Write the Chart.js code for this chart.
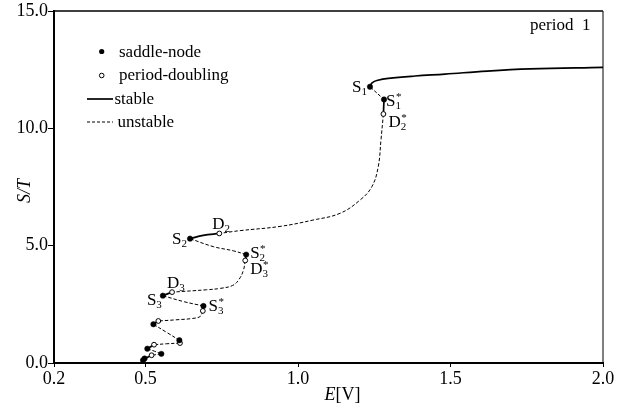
<!DOCTYPE html>
<html>
<head>
<meta charset="utf-8">
<script src="https://cdn.jsdelivr.net/npm/chart.js@4.4.1/dist/chart.umd.min.js"></script>
<style>
  html, body { margin: 0; padding: 0; background: #fff; }
  #wrap { width: 639px; height: 416px; }
</style>
</head>
<body>
<div id="wrap"><canvas id="c" width="639" height="416"></canvas></div>
<script>
// Axis ticks
const xTicks = [0.2, 0.5, 1.0, 1.5, 2.0];
const yTicks = [0, 5, 10, 15];

// Bifurcation points [E, S/T]
const saddleNodes = [
  [1.236, 11.77], [1.282, 11.23], [0.646, 5.30], [0.830, 4.62],
  [0.557, 2.87], [0.690, 2.43], [0.526, 1.65], [0.611, 0.97],
  [0.506, 0.61], [0.552, 0.39], [0.497, 0.19], [0.492, 0.12]
];
const periodDoublings = [
  [1.280, 10.61], [0.742, 5.52], [0.827, 4.37], [0.587, 3.02],
  [0.688, 2.22], [0.542, 1.79], [0.613, 0.85], [0.528, 0.78],
  [0.520, 0.33]
];

// Stable pieces of the period-1 branch
const topBranch   = [[1.236, 11.77], [1.243, 11.94], [1.262, 12.05], [1.296, 12.13], [1.384, 12.23], [1.482, 12.31], [1.620, 12.44], [1.761, 12.53], [2.0, 12.60]];
const s1sToD2s    = [[1.282, 11.23], [1.280, 10.61]];
const d2ToS2      = [[0.742, 5.52], [0.689, 5.44], [0.646, 5.30]];
const s2sToD3s    = [[0.830, 4.62], [0.827, 4.37]];
const d3ToS3      = [[0.587, 3.02], [0.557, 2.87]];
const s3sToD4s    = [[0.690, 2.43], [0.688, 2.22]];
const d4ToS4      = [[0.542, 1.79], [0.526, 1.65]];
const s4sToD5s    = [[0.611, 0.97], [0.613, 0.85]];
const d5ToS5      = [[0.528, 0.78], [0.506, 0.61]];
const d6ToS6      = [[0.520, 0.33], [0.497, 0.19]];

// Unstable pieces of the period-1 branch
const s1ToS1s     = [[1.236, 11.77], [1.282, 11.23]];
const d2sToD2     = [[1.280, 10.61], [1.272, 9.50], [1.263, 8.36], [1.242, 7.51], [1.203, 6.94], [1.138, 6.38], [1.049, 6.09], [0.941, 5.82], [0.810, 5.64], [0.742, 5.52]];
const s2ToS2s     = [[0.646, 5.30], [0.722, 4.96], [0.788, 4.78], [0.830, 4.62]];
const d3sToD3     = [[0.827, 4.37], [0.821, 3.95], [0.806, 3.55], [0.785, 3.30], [0.745, 3.18], [0.700, 3.12], [0.587, 3.02]];
const s3ToS3s     = [[0.557, 2.87], [0.624, 2.62], [0.690, 2.43]];
const d4sToD4     = [[0.688, 2.22], [0.680, 1.99], [0.655, 1.90], [0.600, 1.84], [0.542, 1.79]];
const s4ToS4s     = [[0.526, 1.65], [0.570, 1.30], [0.611, 0.97]];
const d5sToD5     = [[0.613, 0.85], [0.570, 0.82], [0.528, 0.78]];
const s5ToS5s     = [[0.506, 0.61], [0.530, 0.50], [0.552, 0.39]];
const s5sToD6     = [[0.552, 0.39], [0.520, 0.33]];
const tailPath    = [[0.497, 0.19], [0.492, 0.12]];

const stablePieces = [topBranch, s1sToD2s, d2ToS2, s2sToD3s, d3ToS3, s3sToD4s, d4ToS4, s4sToD5s, d5ToS5, d6ToS6];
const unstablePieces = [s1ToS1s, d2sToD2, s2ToS2s, d3sToD3, s3ToS3s, d4sToD4, s4ToS4s, d5sToD5, s5ToS5s, s5sToD6, tailPath];

// Named points: [set, index, letter, subscript, starred]
const pointNames = [
  ['saddle', 0, 'S', '1', false],
  ['saddle', 1, 'S', '1', true],
  ['doubling', 0, 'D', '2', true],
  ['doubling', 1, 'D', '2', false],
  ['saddle', 2, 'S', '2', false],
  ['saddle', 3, 'S', '2', true],
  ['doubling', 2, 'D', '3', true],
  ['doubling', 3, 'D', '3', false],
  ['saddle', 4, 'S', '3', false],
  ['saddle', 5, 'S', '3', true]
];

const SERIF = '"Liberation Serif", "Times New Roman", serif';
const toXY = arr => arr.map(p => ({ x: p[0], y: p[1] }));

const datasets = [];
datasets.push({
  data: toXY(saddleNodes), showLine: false, order: 0,
  pointRadius: 2.7, pointBackgroundColor: '#000', pointBorderColor: '#000', pointBorderWidth: 0.5
});
datasets.push({
  data: toXY(periodDoublings), showLine: false, order: 0,
  pointRadius: 2.4, pointBackgroundColor: '#fff', pointBorderColor: '#000', pointBorderWidth: 1
});
stablePieces.forEach(p => datasets.push({
  data: toXY(p), showLine: true, order: 1, pointRadius: 0,
  borderColor: '#000', borderWidth: 1.7, tension: 0.4, fill: false
}));
unstablePieces.forEach(p => datasets.push({
  data: toXY(p), showLine: true, order: 1, pointRadius: 0,
  borderColor: '#000', borderWidth: 1, borderDash: [3.5, 2], tension: 0.4, fill: false
}));

// Label offsets (pixels) relative to each named point: [dx to text left, dy to text centre]
const nameOffsets = [[-18, 0], [2, 1], [5, 7], [-7, -10], [-18, 0], [4, -2], [5, 8], [-5, -10], [-16, 4], [5, 0]];

function drawName(ctx, x, cy, letter, sub, star) {
  const base = cy + 5.5;
  ctx.font = '17px ' + SERIF;
  ctx.textAlign = 'left';
  ctx.textBaseline = 'alphabetic';
  ctx.fillText(letter, x, base);
  const w = ctx.measureText(letter).width;
  ctx.font = '11px ' + SERIF;
  ctx.fillText(sub, x + w, base + 3);
  if (star) ctx.fillText('*', x + w + 0.5, base - 6);
}

const decorations = {
  id: 'decorations',
  afterDraw(chart) {
    const ctx = chart.ctx;
    const a = chart.chartArea;
    const xs = chart.scales.x, ys = chart.scales.y;
    ctx.save();
    ctx.fillStyle = '#000';
    ctx.strokeStyle = '#000';

    // top and right frame
    ctx.lineWidth = 1.5;
    ctx.beginPath();
    ctx.moveTo(a.left, a.top);
    ctx.lineTo(a.right, a.top);
    ctx.stroke();
    ctx.lineWidth = 1;
    ctx.beginPath();
    ctx.moveTo(a.right, a.top);
    ctx.lineTo(a.right, a.bottom);
    ctx.stroke();

    // key
    ctx.beginPath(); ctx.arc(101.7, 51.5, 2.6, 0, Math.PI * 2); ctx.fill();
    ctx.beginPath(); ctx.arc(101.7, 75.5, 2.3, 0, Math.PI * 2);
    ctx.fillStyle = '#fff'; ctx.fill(); ctx.lineWidth = 1; ctx.stroke();
    ctx.fillStyle = '#000';
    ctx.lineWidth = 1.7;
    ctx.beginPath(); ctx.moveTo(87, 99); ctx.lineTo(113, 99); ctx.stroke();
    ctx.lineWidth = 1;
    ctx.setLineDash([3, 2]);
    ctx.beginPath(); ctx.moveTo(87, 122); ctx.lineTo(113, 122); ctx.stroke();
    ctx.setLineDash([]);
    ctx.font = '17px ' + SERIF;
    ctx.textAlign = 'left';
    ctx.textBaseline = 'alphabetic';
    ctx.fillText('saddle-node', 119, 56.5);
    ctx.fillText('period-doubling', 119, 80);
    ctx.fillText('stable', 114.5, 104);
    ctx.fillText('unstable', 117.5, 127);
    ctx.fillText('period  1', 530, 30);

    // names of the bifurcation points
    pointNames.forEach((n, k) => {
      const src = n[0] === 'saddle' ? saddleNodes : periodDoublings;
      const p = src[n[1]];
      const px = xs.getPixelForValue(p[0]);
      const py = ys.getPixelForValue(p[1]);
      const off = nameOffsets[k];
      drawName(ctx, px + off[0], py + off[1], n[2], n[3], n[4]);
    });

    // axis titles
    ctx.font = 'italic 18px ' + SERIF;
    ctx.textBaseline = 'alphabetic';
    const eW = ctx.measureText('E').width;
    ctx.font = '18px ' + SERIF;
    const vW = ctx.measureText('[V]').width;
    const ex = 342.5 - (eW + vW) / 2;
    ctx.font = 'italic 18px ' + SERIF;
    ctx.fillText('E', ex, 400);
    ctx.font = '18px ' + SERIF;
    ctx.fillText('[V]', ex + eW, 400);

    ctx.translate(30, 191);
    ctx.rotate(-Math.PI / 2);
    ctx.font = 'italic 18px ' + SERIF;
    ctx.textAlign = 'center';
    ctx.fillText('S/T', 0, 0);
    ctx.restore();
  }
};

new Chart(document.getElementById('c'), {
  type: 'scatter',
  data: { datasets },
  options: {
    responsive: false,
    devicePixelRatio: 1,
    animation: false,
    layout: { padding: { top: 11, right: 36, left: 0, bottom: 0 } },
    plugins: { legend: { display: false }, tooltip: { enabled: false } },
    scales: {
      x: {
        type: 'linear', min: 0.2, max: 2.0,
        afterBuildTicks: s => { s.ticks = xTicks.map(v => ({ value: v })); },
        afterFit: s => { s.height = 53; },
        ticks: {
          color: '#000', padding: 1,
          font: { family: SERIF, size: 18 },
          callback: v => Number(v).toFixed(1)
        },
        grid: { drawOnChartArea: false, drawTicks: true, tickLength: 4, color: '#000' },
        border: { display: true, color: '#000', width: 2 }
      },
      y: {
        type: 'linear', min: 0, max: 15,
        afterBuildTicks: s => { s.ticks = yTicks.map(v => ({ value: v })); },
        afterFit: s => { s.width = 54; },
        ticks: {
          color: '#000', padding: 0,
          font: { family: SERIF, size: 18 },
          callback: v => Number(v).toFixed(1)
        },
        grid: { drawOnChartArea: false, drawTicks: true, tickLength: 6, color: '#000' },
        border: { display: true, color: '#000', width: 2 }
      }
    }
  },
  plugins: [decorations]
});
</script>
</body>
</html>
